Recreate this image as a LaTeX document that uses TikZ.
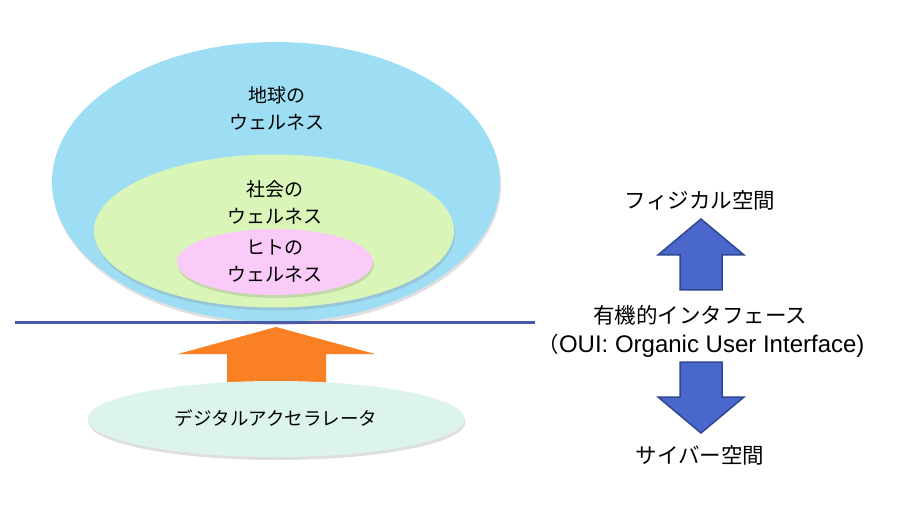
\documentclass[tikz,border=0pt]{standalone}
\usepackage{fontspec}
\setmainfont{Noto Sans CJK JP}
\newfontfamily\latinfont{Liberation Sans}
\usetikzlibrary{shapes.geometric,shadows}
\definecolor{earthblue}{HTML}{9EDEF5}
\definecolor{societygreen}{HTML}{DAF5B8}
\definecolor{humanpink}{HTML}{FACBF8}
\definecolor{accelmint}{HTML}{DDF3EE}
\definecolor{borderline}{HTML}{4A5AA8}
\definecolor{pushorange}{HTML}{F98124}
\definecolor{arrowblue}{HTML}{4A68CC}
\definecolor{arrowedge}{HTML}{2F4790}
\tikzstyle{sphere}=[ellipse,inner sep=0pt,drop shadow={shadow xshift=1pt,shadow yshift=-3pt,opacity=0.25}]
\tikzstyle{wtext}=[align=center,font=\fontsize{19}{27}\selectfont]
\tikzstyle{rtext}=[align=center,font=\fontsize{21.5}{30}\selectfont]
\tikzstyle{blockup}=[fill=arrowblue,draw=arrowedge,line width=1.5pt,line join=miter]

\begin{document}
\begin{tikzpicture}[x=1pt,y=-1pt]
    \useasboundingbox (0,0) rectangle (897,521);
    % wellness spheres
    \node[sphere,fill=earthblue,minimum width=448pt,minimum height=280pt] (earth) at (276,182) {};
    \node[sphere,fill=societygreen,minimum width=360pt,minimum height=153pt] (society) at (274,231) {};
    \node[sphere,fill=humanpink,minimum width=196pt,minimum height=66pt] (human) at (275,262) {};
    \node[wtext] (earthtxt) at (277,108) {地球の\\ウェルネス};
    \node[wtext] (societytxt) at (275,202) {社会の\\ウェルネス};
    \node[wtext] (humantxt) at (275,261) {ヒトの\\ウェルネス};
    % physical / cyber border
    \coordinate (lineL) at (15,323);
    \coordinate (lineR) at (535,323);
    \draw[borderline,line width=3pt] (lineL) -- (lineR);
    % accelerator arrow
    \coordinate (otip) at (276,327);
    \fill[pushorange] (otip) -- (375,354) -- (326,354) -- (326,384)
        -- (227,384) -- (227,354) -- (178,354) -- cycle;
    \node[sphere,fill=accelmint,minimum width=377pt,minimum height=76pt] (accel) at (276,419) {};
    \node[wtext,font=\fontsize{18.5}{27}\selectfont] (acceltxt) at (276,418) {デジタルアクセラレータ};
    % right side
    \node[rtext] (physical) at (700,200) {フィジカル空間};
    \node[rtext] (oui) at (700,315) {有機的インタフェース};
    \node[rtext] (ouien) at (701,346) {（{\latinfont\fontsize{24}{30}\selectfont OUI: Organic User Interface)}};
    \node[rtext] (cyber) at (700,455) {サイバー空間};
    \coordinate (uptip) at (701,219);
    \coordinate (downtip) at (701,433);
    \draw[blockup] (uptip) -- (744,255) -- (722,255) -- (722,290)
        -- (680,290) -- (680,255) -- (658,255) -- cycle;
    \draw[blockup] (downtip) -- (744,397) -- (722,397) -- (722,362)
        -- (680,362) -- (680,397) -- (658,397) -- cycle;
\end{tikzpicture}
\end{document}
